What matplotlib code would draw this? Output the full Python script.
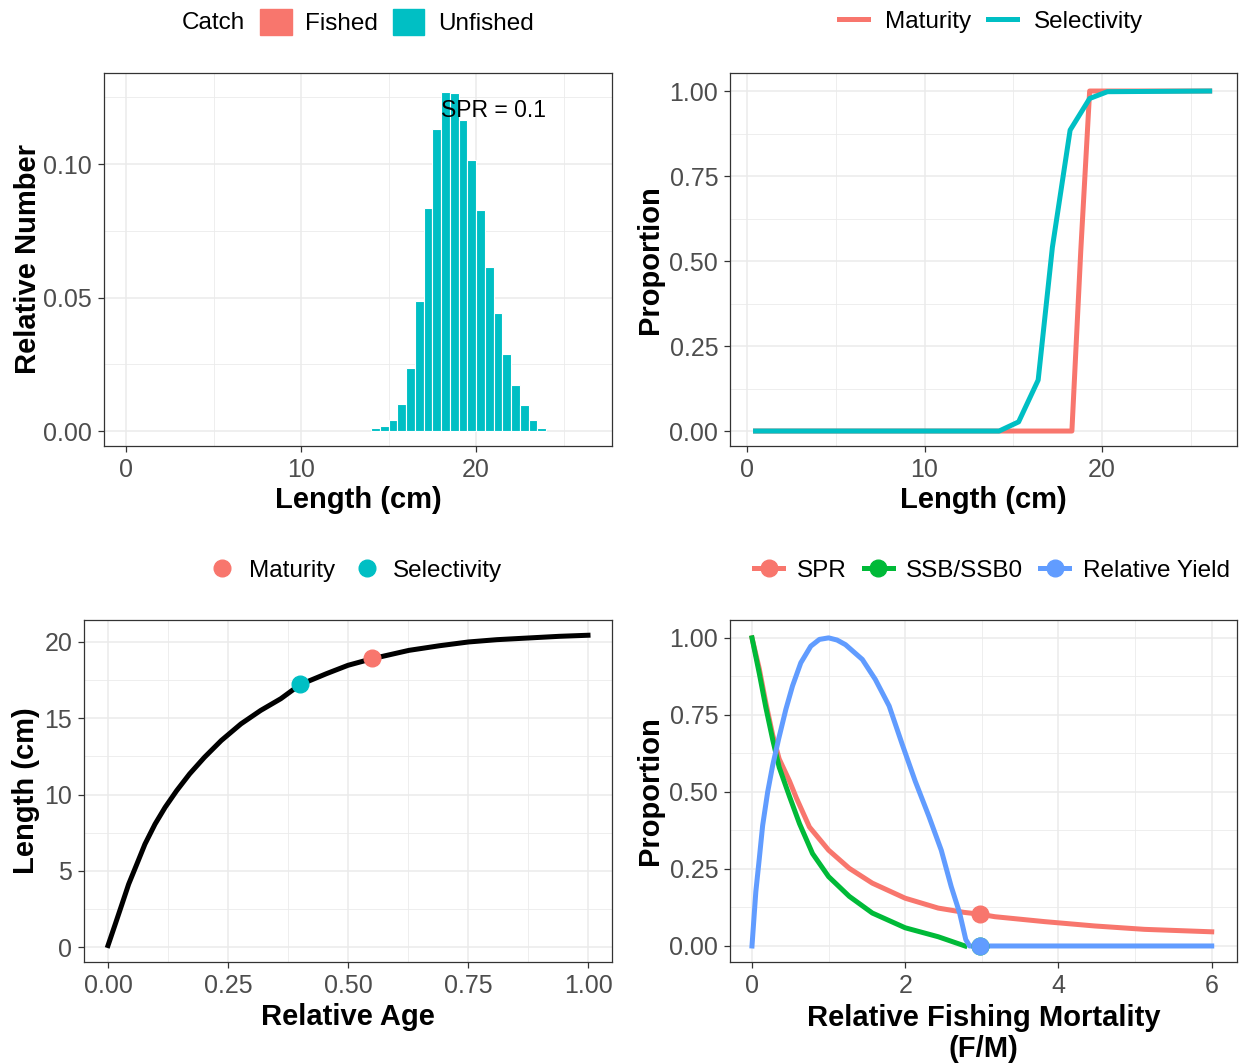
import numpy as np
import matplotlib
matplotlib.use("Agg")
import matplotlib.pyplot as plt
from matplotlib.patches import Patch
from matplotlib.lines import Line2D

plt.rcParams['font.family'] = ['Liberation Sans', 'DejaVu Sans']

RED = "#F8766D"
TEAL = "#00BFC4"
GREEN = "#00BA38"
BLUE = "#619CFF"

# ---- top left: catch length composition ----
catch_len = [14.25, 14.75, 15.25, 15.75, 16.25, 16.75, 17.25, 17.75, 18.25, 18.75,
             19.25, 19.75, 20.25, 20.75, 21.25, 21.75, 22.25, 22.75, 23.25, 23.75]
unfished = [0.0012, 0.0019, 0.0041, 0.0100, 0.0235, 0.0488, 0.0834, 0.1130, 0.1270, 0.1266,
            0.1166, 0.1015, 0.0828, 0.0616, 0.0441, 0.0288, 0.0171, 0.0096, 0.0041, 0.0012]
spr_label = "SPR = 0.1"

# ---- top right: maturity / selectivity at length ----
mat_len = [0.34, 18.3, 18.8, 19.3, 26.2]
maturity = [0.0, 0.0, 0.53, 1.0, 1.0]
sel_len = [0.34, 14.2, 15.3, 16.4, 17.2, 18.2, 19.3, 20.3, 26.2]
selectivity = [0.0, 0.0, 0.027, 0.15, 0.54, 0.885, 0.978, 0.998, 1.0]

# ---- bottom left: growth curve ----
rel_age = [0.0, 0.015, 0.029, 0.043, 0.060, 0.077, 0.098, 0.119, 0.143, 0.170, 0.201,
           0.236, 0.277, 0.318, 0.360, 0.40, 0.455, 0.50, 0.55, 0.627, 0.69, 0.751,
           0.81, 0.875, 0.94, 1.0]
length_at_age = [0.1, 1.49, 2.8, 4.12, 5.43, 6.75, 8.06, 9.16, 10.25, 11.35, 12.44,
                 13.54, 14.63, 15.51, 16.28, 17.2, 17.92, 18.47, 18.9, 19.45, 19.75, 20.0,
                 20.15, 20.26, 20.37, 20.44]
mat_point = (0.55, 18.95)
sel_point = (0.40, 17.25)

# ---- bottom right: per-recruit curves vs F/M ----
spr_F = [0, 0.095, 0.18, 0.27, 0.355, 0.49, 0.58, 0.75, 1.0, 1.27, 1.57, 2.0, 2.43,
         2.77, 2.98, 3.17, 3.82, 4.47, 5.12, 6.0]
spr = [1.0, 0.90, 0.79, 0.685, 0.607, 0.535, 0.48, 0.386, 0.311, 0.252, 0.204, 0.155,
       0.123, 0.109, 0.103, 0.095, 0.079, 0.065, 0.054, 0.046]
ssb_F = [0, 0.095, 0.18, 0.27, 0.355, 0.49, 0.62, 0.79, 1.0, 1.27, 1.57, 2.0, 2.43, 2.78]
ssb = [1.0, 0.885, 0.775, 0.67, 0.58, 0.485, 0.397, 0.30, 0.225, 0.161, 0.107, 0.059,
       0.030, 0.0]
yield_F = [0, 0.05, 0.095, 0.139, 0.204, 0.269, 0.347, 0.442, 0.529, 0.637, 0.767, 0.88,
           1.0, 1.11, 1.22, 1.44, 1.61, 1.79, 1.96, 2.13, 2.31, 2.47, 2.6, 2.71, 2.79,
           2.84, 6.0]
rel_yield = [0, 0.176, 0.283, 0.391, 0.499, 0.585, 0.671, 0.768, 0.844, 0.919, 0.973, 0.995,
             1.0, 0.993, 0.978, 0.930, 0.865, 0.779, 0.655, 0.535, 0.42, 0.311, 0.193,
             0.107, 0.021, 0.0, 0.0]
fm_point = 2.98
spr_at_point = 0.103
ssb_at_point = 0.0
yield_at_point = 0.0

W, H = 1242, 1063
fig = plt.figure(figsize=(W / 100, H / 100), dpi=100)


def make_ax(left, right, top, bottom):
    return fig.add_axes([left / W, 1 - bottom / H, (right - left) / W, (bottom - top) / H])


def style(ax, xt, yt, xminor, yminor, xlim, ylim, xfmt, yfmt):
    ax.set_xlim(xlim)
    ax.set_ylim(ylim)
    ax.set_xticks(xt)
    ax.set_yticks(yt)
    ax.set_xticks(xminor, minor=True)
    ax.set_yticks(yminor, minor=True)
    ax.set_xticklabels([xfmt.format(v) for v in xt])
    ax.set_yticklabels([yfmt.format(v) for v in yt])
    ax.grid(which='major', color='#EBEBEB', lw=1.1)
    ax.grid(which='minor', color='#EBEBEB', lw=0.6)
    ax.set_axisbelow(True)
    ax.tick_params(which='major', length=4, width=0.9, color='#333333',
                   labelsize=18, labelcolor='#4D4D4D', pad=4.5)
    ax.tick_params(which='minor', length=0)
    for s in ax.spines.values():
        s.set_color('#333333')
        s.set_linewidth(0.9)


def labels(ax, xl, yl, xy, yx):
    ax.set_xlabel(xl, fontsize=21, fontweight='bold', va='center', linespacing=1.12)
    ax.set_ylabel(yl, fontsize=21, fontweight='bold', va='center')
    ax.xaxis.set_label_coords(0.5, xy)
    ax.yaxis.set_label_coords(yx, 0.5)


# top left
ax1 = make_ax(104, 612, 73, 446)
ax1.bar(catch_len, unfished, width=0.5, color=TEAL, edgecolor='white', linewidth=0.8)
ax1.text(21.0, 0.120, spr_label, fontsize=16.5, ha='center', va='center')
style(ax1, [0, 10, 20], [0.0, 0.05, 0.10], [5, 15, 25], [0.025, 0.075, 0.125],
      (-1.257, 27.77), (-0.0056, 0.1341), "{:g}", "{:.2f}")
labels(ax1, "Length (cm)", "Relative Number", -0.145, -0.15)

fig.text(182 / W, 1 - 23 / H, "Catch", fontsize=17.5, va='center', ha='left')
fig.legend(handles=[Patch(color=RED, label="Fished"), Patch(color=TEAL, label="Unfished")],
           loc='center', bbox_to_anchor=(397 / W, 1 - 22 / H), ncol=2, frameon=False,
           fontsize=17.5, handlelength=1.3, handleheight=1.3, handletextpad=0.55,
           columnspacing=0.6, borderpad=0, borderaxespad=0)

# top right
ax2 = make_ax(730, 1237, 73, 446)
ax2.plot(mat_len, maturity, color=RED, lw=3.6, solid_capstyle='butt')
ax2.plot(sel_len, selectivity, color=TEAL, lw=3.6, solid_capstyle='butt')
style(ax2, [0, 10, 20], [0, 0.25, 0.5, 0.75, 1.0], [5, 15, 25],
      [0.125, 0.375, 0.625, 0.875], (-0.958, 27.6), (-0.044, 1.053), "{:g}", "{:.2f}")
labels(ax2, "Length (cm)", "Proportion", -0.145, -0.158)

fig.legend(handles=[Line2D([], [], color=RED, lw=3.6, label="Maturity"),
                    Line2D([], [], color=TEAL, lw=3.6, label="Selectivity")],
           loc='center', bbox_to_anchor=(991 / W, 1 - 22 / H), ncol=2, frameon=False,
           fontsize=17.5, handlelength=1.2, handletextpad=0.7, columnspacing=0.7,
           borderpad=0, borderaxespad=0)

# bottom left
ax3 = make_ax(84, 612, 620, 962)
ax3.plot(rel_age, length_at_age, color='black', lw=3.6)
ax3.plot(*sel_point, 'o', color=TEAL, ms=12, zorder=5)
ax3.plot(*mat_point, 'o', color=RED, ms=12, zorder=5)
style(ax3, [0, 0.25, 0.5, 0.75, 1.0], [0, 5, 10, 15, 20], [0.125, 0.375, 0.625, 0.875],
      [2.5, 7.5, 12.5, 17.5], (-0.05, 1.05), (-0.98, 21.44), "{:.2f}", "{:g}")
labels(ax3, "Relative Age", "Length (cm)", -0.161, -0.11)

fig.legend(handles=[Line2D([], [], ls='none', marker='o', ms=12, color=RED, label="Maturity"),
                    Line2D([], [], ls='none', marker='o', ms=12, color=TEAL, label="Selectivity")],
           loc='center', bbox_to_anchor=(355 / W, 1 - 571 / H), ncol=2, frameon=False,
           fontsize=17.5, handlelength=1.2, handletextpad=0.5, columnspacing=0.7,
           borderpad=0, borderaxespad=0)

# bottom right
ax4 = make_ax(730, 1237, 620, 962)
ax4.plot(spr_F, spr, color=RED, lw=3.6)
ax4.plot(ssb_F, ssb, color=GREEN, lw=3.6)
ax4.plot(yield_F, rel_yield, color=BLUE, lw=3.6)
ax4.plot(fm_point, spr_at_point, 'o', color=RED, ms=12, zorder=5)
ax4.plot(fm_point, ssb_at_point, 'o', color=GREEN, ms=12, zorder=5)
ax4.plot(fm_point, yield_at_point, 'o', color=BLUE, ms=12, zorder=6)
style(ax4, [0, 2, 4, 6], [0, 0.25, 0.5, 0.75, 1.0], [1, 3, 5],
      [0.125, 0.375, 0.625, 0.875], (-0.287, 6.33), (-0.052, 1.058), "{:g}", "{:.2f}")
labels(ax4, "Relative Fishing Mortality\n(F/M)", "Proportion", -0.21, -0.158)

fig.legend(handles=[Line2D([], [], color=c, lw=3.6, marker='o', ms=12, label=l)
                    for c, l in [(RED, "SPR"), (GREEN, "SSB/SSB0"), (BLUE, "Relative Yield")]],
           loc='center', bbox_to_anchor=(992 / W, 1 - 571 / H), ncol=3, frameon=False,
           fontsize=17.5, handlelength=1.2, handletextpad=0.55, columnspacing=0.7,
           borderpad=0, borderaxespad=0)

fig.savefig("out.png", dpi=100, facecolor='white')
